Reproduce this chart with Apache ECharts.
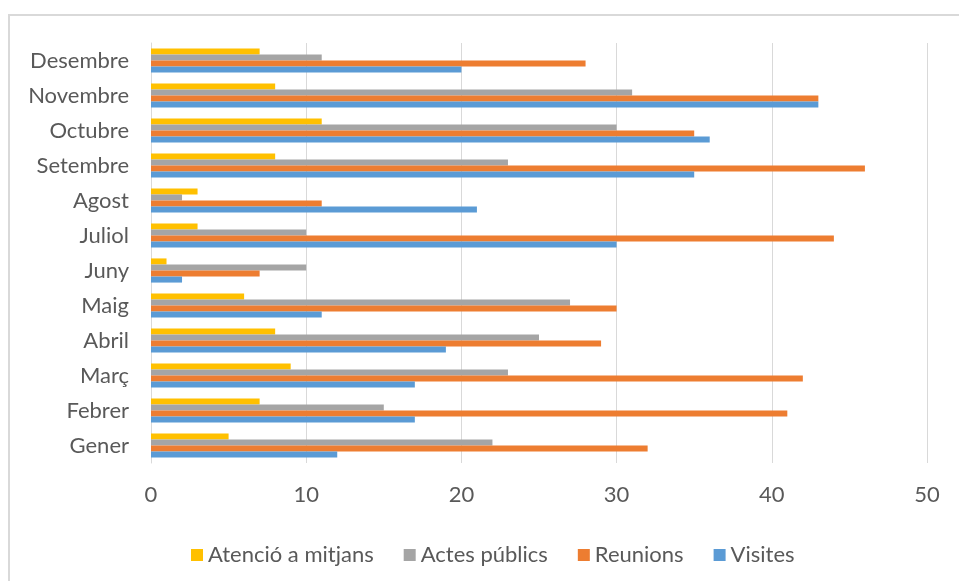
<!DOCTYPE html>
<html>
<head>
<meta charset="utf-8">
<script src="https://cdn.jsdelivr.net/npm/echarts@6/dist/echarts.min.js"></script>
<style>
  html, body { margin: 0; padding: 0; background: #fff; }
  #frame {
    position: absolute; left: 8px; top: 14px; width: 980px; height: 600px;
    border-left: 2px solid #d9d9d9; border-top: 2px solid #d9d9d9;
  }
  #chart { position: absolute; left: 0; top: 0; width: 959px; height: 581px; }
</style>
</head>
<body>
<div id="frame"></div>
<div id="chart"></div>
<script>
const months = ['Gener', 'Febrer', 'Març', 'Abril', 'Maig', 'Juny', 'Juliol', 'Agost', 'Setembre', 'Octubre', 'Novembre', 'Desembre']
const visites = [12, 17, 17, 19, 11, 2, 30, 21, 35, 36, 43, 20]
const reunions = [32, 41, 42, 29, 30, 7, 44, 11, 46, 35, 43, 28]
const actesPublics = [22, 15, 23, 25, 27, 10, 10, 2, 23, 30, 31, 11]
const atencioMitjans = [5, 7, 9, 8, 6, 1, 3, 3, 8, 11, 8, 7]

const font = 'Lato, "Open Sans", sans-serif'
const chart = echarts.init(document.getElementById('chart'))

function bar(name, data, color) {
  return {
    name: name,
    type: 'bar',
    data: data,
    itemStyle: { color: color },
    barGap: '0%',
    barCategoryGap: '31%'
  }
}

const option = {
  animation: false,
  backgroundColor: 'transparent',
  textStyle: { fontFamily: font },
  grid: { left: 151, right: 32, top: 43, bottom: 118 },
  legend: {
    data: ['Atenció a mitjans', 'Actes públics', 'Reunions', 'Visites'],
    left: 186,
    top: 539,
    itemWidth: 12,
    itemHeight: 12,
    itemGap: 30,
    icon: 'rect',
    textStyle: { fontSize: 22, color: '#595959', fontFamily: font }
  },
  xAxis: {
    type: 'value',
    min: 0,
    max: 50,
    interval: 10,
    axisLine: { show: false },
    axisTick: { show: false },
    axisLabel: { color: '#595959', fontSize: 22, margin: 21, fontFamily: font },
    splitLine: { lineStyle: { color: '#d9d9d9', width: 1 } }
  },
  yAxis: {
    type: 'category',
    data: months,
    axisLine: { lineStyle: { color: '#d9d9d9' } },
    axisTick: { show: false },
    axisLabel: { color: '#595959', fontSize: 22, margin: 22, fontFamily: font }
  },
  series: [
    bar('Atenció a mitjans', atencioMitjans, '#ffc000'),
    bar('Actes públics', actesPublics, '#a5a5a5'),
    bar('Reunions', reunions, '#ed7d31'),
    bar('Visites', visites, '#5b9bd5')
  ]
}

chart.setOption(option)
</script>
</body>
</html>
